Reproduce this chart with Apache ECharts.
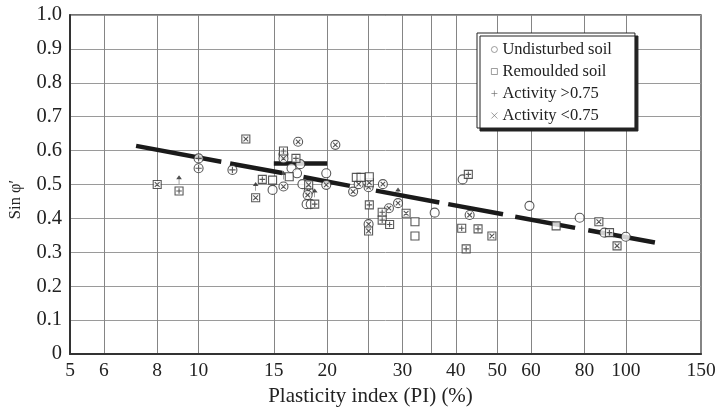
<!DOCTYPE html>
<html><head><meta charset="utf-8">
<script src="https://cdn.jsdelivr.net/npm/echarts@6/dist/echarts.min.js"></script>
<style>html,body{margin:0;padding:0;background:#fff}#c{width:717px;height:408px}</style>
</head><body><div id="c"></div>
<script>
// ---- tick values / labels ----
const xLabelTicks = [5, 6, 8, 10, 15, 20, 30, 40, 50, 60, 80, 100, 150];
const xGridTicks = [6, 8, 10, 15, 20, 25, 30, 35, 40, 50, 60, 80, 100];
const yTickLabels = ['0', '0.1', '0.2', '0.3', '0.4', '0.5', '0.6', '0.7', '0.8', '0.9', '1.0'];

// ---- data: [PI (%), sin phi'] ----
const undisturbedPlus = [[10.0, 0.577], [10.0, 0.548], [12.0, 0.543]];
const undisturbedCross = [[17.1, 0.626], [20.9, 0.617], [15.8, 0.589], [15.8, 0.577], [15.8, 0.494], [18.1, 0.481], [18.0, 0.469],
  [19.9, 0.499], [23.7, 0.501], [23.0, 0.479], [25.0, 0.492], [27.0, 0.501], [29.3, 0.445], [27.9, 0.430], [25.0, 0.383], [43.1, 0.410]];
const undisturbedPlain = [[16.5, 0.548], [17.3, 0.560], [17.0, 0.533], [14.9, 0.484], [17.5, 0.501], [17.9, 0.442], [18.3, 0.442],
  [19.9, 0.533], [35.7, 0.417], [41.5, 0.515], [59.5, 0.437], [78.0, 0.402], [89.1, 0.358], [100, 0.346]];
const remouldedPlus = [[9.0, 0.481], [14.1, 0.515], [15.8, 0.599], [16.9, 0.577], [18.7, 0.442], [25.1, 0.440], [26.9, 0.418],
  [26.9, 0.395], [28.0, 0.382], [42.8, 0.530], [41.3, 0.371], [45.1, 0.369], [42.3, 0.310], [91.6, 0.358]];
const remouldedCross = [[8.0, 0.500], [12.9, 0.634], [13.6, 0.461], [18.1, 0.499], [25.1, 0.505], [30.6, 0.415], [25.0, 0.363],
  [48.6, 0.348], [95.4, 0.319], [86.5, 0.390]];
const remouldedPlain = [[14.9, 0.513], [16.3, 0.523], [23.4, 0.521], [24.0, 0.521], [25.1, 0.523], [32.1, 0.390], [32.1, 0.348],
  [68.7, 0.378]];
const arrowPoints = [[9.0, 0.481], [13.6, 0.461], [15.8, 0.494], [18.7, 0.442], [29.3, 0.445]];

// trend line (dashed, drawn in pieces) and the short horizontal bar
const trendSegments = [
  [[7.14, 0.614], [11.3, 0.567]],
  [[11.85, 0.562], [15.7, 0.534]],
  [[17.6, 0.522], [22.6, 0.496]],
  [[26.0, 0.482], [36.6, 0.447]],
  [[38.4, 0.442], [51.6, 0.412]],
  [[55.1, 0.405], [76.1, 0.372]],
  [[81.7, 0.365], [117, 0.329]]
];
const flatSegment = [[15, 0.562], [20, 0.562]];

// ---- styling ----
const FONT = 'Liberation Serif';
const INK = '#222';
const C = 'M10,0 A10,10 0 1,1 10,20 A10,10 0 1,1 10,0 Z ';
const S = 'M0,0 L20,0 L20,20 L0,20 Z ';
const PLUS = 'M3,10 L17,10 M10,3 L10,17';
const CROSS = 'M4,4 L16,16 M4,16 L16,4';
const symCirclePlus = 'path://' + C + PLUS;
const symCircleCross = 'path://' + C + 'M5,5 L15,15 M5,15 L15,5';
const symCircle = 'path://' + C;
const symSquarePlus = 'path://' + S + PLUS;
const symSquareCross = 'path://' + S + CROSS;
const symSquare = 'path://' + S;
const symArrow = 'path://M5,20 L5,5 M2,7 L5,0 L8,7 Z';

const markStyle = { color: '#fff', borderColor: '#2e2e2e', borderWidth: 1.1 };
function pts(name, data, symbol, size) {
  return { type: 'scatter', name: name, data: data, symbol: symbol, symbolSize: size,
    itemStyle: markStyle, z: 5, silent: true, animation: false };
}

const series = [];
trendSegments.forEach(function (seg) {
  series.push({ type: 'line', data: seg, showSymbol: false, symbol: 'none', silent: true, animation: false,
    lineStyle: { color: '#1a1a1a', width: 4.5, cap: 'butt' }, z: 3 });
});
series.push({ type: 'line', data: flatSegment, showSymbol: false, symbol: 'none', silent: true, animation: false,
  lineStyle: { color: '#1a1a1a', width: 4.5, cap: 'butt' }, z: 3 });
series.push(pts('u+', undisturbedPlus, symCirclePlus, 9));
series.push(pts('ux', undisturbedCross, symCircleCross, 9));
series.push(pts('uo', undisturbedPlain, symCircle, 9));
series.push(pts('r+', remouldedPlus, symSquarePlus, 8));
series.push(pts('rx', remouldedCross, symSquareCross, 8));
series.push(pts('ro', remouldedPlain, symSquare, 8));
series.push({ type: 'scatter', name: 'arrows', data: arrowPoints, symbol: symArrow, symbolSize: [4, 8],
  symbolOffset: [0, -11], itemStyle: { color: '#333', borderColor: '#333', borderWidth: 0.8 }, silent: true, z: 4, animation: false });

// legend entries
const legendNames = ['Undisturbed soil', 'Remoulded soil', 'Activity >0.75', 'Activity <0.75'];
const legendIcons = [symCircle, symSquare, 'path://M0,5 L10,5 M5,0 L5,10', 'path://M0,0 L10,10 M0,10 L10,0'];
legendNames.forEach(function (n, i) {
  series.push({ type: 'scatter', name: n, data: [], symbol: legendIcons[i],
    itemStyle: { color: '#fff', borderColor: '#555', borderWidth: 0.8 } });
});

const chart = echarts.init(document.getElementById('c'), null, { renderer: 'canvas' });
chart.setOption({
  animation: false,
  backgroundColor: '#fff',
  grid: { left: 70, right: 16, top: 15, bottom: 54, show: true, borderColor: '#444', borderWidth: 1.3,
    containLabel: false, outerBoundsMode: 'none' },
  legend: {
    left: 477, top: 33, orient: 'vertical', selectedMode: false,
    data: legendNames.map(function (n, i) {
      return { name: n, icon: legendIcons[i],
        itemStyle: { color: '#fff', borderColor: '#666', borderWidth: 0.8 } };
    }),
    itemWidth: 6, itemHeight: 6, itemGap: 5, itemTextGap: 13,
    padding: [8, 23, 4, 14],
    backgroundColor: '#fff', borderColor: '#222', borderWidth: 1,
    shadowColor: '#222', shadowOffsetX: 3, shadowOffsetY: 3, shadowBlur: 0,
    textStyle: { fontFamily: FONT, fontSize: 16.5, color: INK, lineHeight: 16 }
  },
  xAxis: [
    { type: 'log', logBase: 10, min: 5, max: 150, position: 'bottom',
      axisLine: { show: true, lineStyle: { color: '#333', width: 2 } },
      axisTick: { show: false }, axisLabel: { show: false }, splitLine: { show: false } },
    { type: 'value', min: Math.log10(5), max: Math.log10(150), position: 'bottom',
      axisLine: { show: false },
      axisTick: { show: false, customValues: xGridTicks.map(Math.log10) },
      splitLine: { show: true, customValues: xGridTicks.map(Math.log10), lineStyle: { color: '#858585', width: 1 } },
      axisLabel: {
        customValues: xLabelTicks.map(Math.log10), margin: 7,
        fontFamily: FONT, fontSize: 19.5, color: INK,
        formatter: function (v) {
          for (let i = 0; i < xLabelTicks.length; i++) {
            if (Math.abs(Math.log10(xLabelTicks[i]) - v) < 1e-6) return String(xLabelTicks[i]);
          }
          return '';
        }
      },
      name: 'Plasticity index (PI) (%)', nameLocation: 'middle', nameGap: 24,
      nameTextStyle: { fontFamily: FONT, fontSize: 21, color: INK, padding: [0, 30, 0, 0] } }
  ],
  yAxis: {
    type: 'value', min: 0, max: 1, interval: 0.1,
    axisLine: { show: true, lineStyle: { color: '#333', width: 2 } },
    axisTick: { show: false },
    splitLine: { show: true, lineStyle: { color: '#9a9a9a', width: 1 } },
    axisLabel: { margin: 8, fontFamily: FONT, fontSize: 20.5, color: INK,
      formatter: function (v) { return yTickLabels[Math.round(v * 10)]; } },
    name: 'Sin φ′', nameLocation: 'middle', nameGap: 46, nameRotate: 90,
    nameTextStyle: { fontFamily: FONT, fontSize: 16.5, color: INK, padding: [0, 30, 0, 0] }
  },
  series: series
});
</script>
</body></html>
